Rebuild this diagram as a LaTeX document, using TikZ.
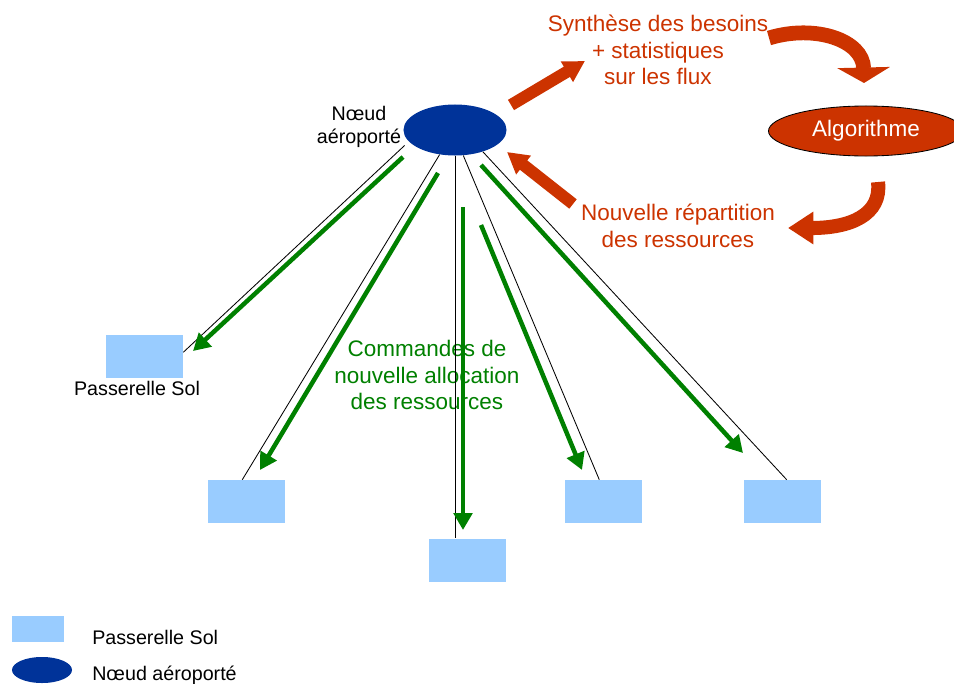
\documentclass[tikz,border=0pt]{standalone}
\usepackage{fontspec}
\setmainfont{Liberation Sans}
\usetikzlibrary{arrows.meta,shapes.geometric}
\definecolor{colorsol}{RGB}{153,204,255}
\definecolor{colorair}{RGB}{0,51,153}
\definecolor{colorrouge}{RGB}{204,51,0}
\definecolor{colorvert}{RGB}{0,128,0}

\tikzset{
  Passerelle/.style = {rectangle, fill=colorsol, inner sep=0pt,
                       minimum width=1.925cm, minimum height=1.075cm},
  Noeud/.style      = {ellipse, fill=colorair, inner sep=0pt,
                       minimum width=2.575cm, minimum height=1.275cm},
  Algo/.style       = {ellipse, draw=black, line width=0.6pt, fill=colorrouge,
                       text=white, inner sep=0pt,
                       minimum width=4.875cm, minimum height=1.25cm,
                       font=\fontsize{16}{19}\selectfont},
  TexteNoir/.style  = {align=center, inner sep=0pt,
                       font=\fontsize{14}{16.3}\selectfont},
  TexteRouge/.style = {align=center, inner sep=0pt, text=colorrouge,
                       font=\fontsize{16}{19}\selectfont},
  TexteVert/.style  = {align=center, inner sep=0pt, text=colorvert,
                       font=\fontsize{16}{19}\selectfont},
  Lien/.style       = {line width=0.6pt},
  Commande/.style   = {colorvert, line width=3.2pt,
                       -{Triangle[width=13pt,length=12pt]}},
  Retour/.style     = {colorrouge, line width=8.5pt,
                       -{Triangle[width=16pt,length=15pt]}},
}

\begin{document}
\begin{tikzpicture}[x=0.025cm, y=-0.025cm]
% un pixel de l'image = une unite
\useasboundingbox (0,0) rectangle (954,684);

% noeud aeroporte et algorithme
\node[Noeud] (air) at (455,130) {};
\node[TexteNoir] (airlbl) at (359,127) {Nœud\\aéroporté};
\node[Algo] (algo) at (866,131) {Algorithme};

% passerelles sol
\node[Passerelle] (b1) at (144.5,356.5) {};
\node[Passerelle] (b2) at (246.5,501.5) {};
\node[Passerelle] (b3) at (467.5,560) {};
\node[Passerelle] (b4) at (603.5,501.5) {};
\node[Passerelle] (b5) at (782.5,501.5) {};
\node[TexteNoir] (b1lbl) at (137,388) {Passerelle Sol};

% textes
\node[TexteRouge] (synth) at (658,50) {Synthèse des besoins\\+ statistiques\\sur les flux};
\node[TexteRouge] (repart) at (678,226) {Nouvelle répartition\\des ressources};
\node[TexteVert] (cmd) at (427,375) {Commandes de\\nouvelle allocation\\des ressources};

% liens
\draw[Lien] ([xshift=1pt,yshift=-11pt]air.west) -- ([yshift=3pt]b1.east);
\draw[Lien] (air.238) -- ([xshift=-3pt]b2.north);
\draw[Lien] (air.south) -- (air.south |- b3.north);
\draw[Lien] (air.288) -- ([xshift=-3pt]b4.north);
\draw[Lien] (air.322) -- ([xshift=3pt]b5.north);

% commandes
\coordinate (g1s) at (403,157); \coordinate (g1e) at (193,351);
\coordinate (g2s) at (438,173); \coordinate (g2e) at (260,470);
\coordinate (g3s) at (463,207); \coordinate (g3e) at (463,530);
\coordinate (g4s) at (481,225); \coordinate (g4e) at (582,470);
\coordinate (g5s) at (481,165); \coordinate (g5e) at (743,453);
\foreach \i in {1,...,5}
  \draw[Commande] (g\i s) -- (g\i e);

% fleches rouges
\coordinate (r1s) at (511,105); \coordinate (r1e) at (585,61);
\coordinate (r2s) at (573,204); \coordinate (r2e) at (507,152);
\coordinate (r3s) at (769,38);  \coordinate (r3e) at (864,83);
\coordinate (r4s) at (878,182); \coordinate (r4e) at (788,228);
\draw[Retour] (r1s) -- (r1e);
\draw[Retour] (r2s) -- (r2e);
\draw[Retour, line width=10.5pt, -{Triangle[width=37pt,length=11pt]}]
  (r3s) .. controls (815,24) and (863,40) .. (r3e);
\draw[Retour, line width=10pt, -{Triangle[width=22pt,length=18pt]}]
  (r4s) .. controls (882,215) and (850,228) .. (r4e);

% legende
\node[Passerelle, minimum width=1.3cm, minimum height=0.65cm] (legsol) at (38,629) {};
\node[TexteNoir, anchor=west] (legsollbl) at (92,637) {Passerelle Sol};
\node[Noeud, minimum width=1.5cm, minimum height=0.65cm] (legair) at (42,670) {};
\node[TexteNoir, anchor=west] (legairlbl) at (92,675) {Nœud aéroporté};
\end{tikzpicture}
\end{document}
